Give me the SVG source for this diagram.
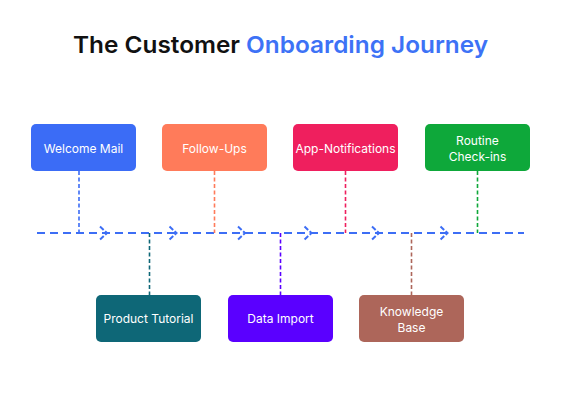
<svg xmlns="http://www.w3.org/2000/svg" width="561" height="400" viewBox="0 0 561 400">
<style>
.lbl{font-family:Inter,"Open Sans","Liberation Sans",sans-serif;font-size:12px;fill:#fff;text-anchor:middle}
.ttl{font-family:Inter,"Open Sans","Liberation Sans",sans-serif;font-size:23.5px;font-weight:600}
.main{stroke:#3D6EF5;stroke-width:2;stroke-dasharray:8 5;fill:none}
.chev{stroke:#3D6EF5;stroke-width:2;stroke-dasharray:5 2;fill:none}
.v{stroke-width:1.6;stroke-dasharray:4 2.5;fill:none}
</style>
<rect width="561" height="400" fill="#fff"/>
<text class="ttl" x="280.5" y="53" text-anchor="middle" textLength="415" lengthAdjust="spacingAndGlyphs"><tspan fill="#111">The Customer </tspan><tspan fill="#3D72F6">Onboarding Journey</tspan></text>
<g id="connectors">
<line class="main" x1="37" y1="233" x2="524" y2="233"/>
<path class="chev" d="M100 226.5 L107 233 L100 239.5"/>
<path class="chev" d="M169.5 226.5 L176.5 233 L169.5 239.5"/>
<path class="chev" d="M238 226.5 L245 233 L238 239.5"/>
<path class="chev" d="M304.5 226.5 L311.5 233 L304.5 239.5"/>
<path class="chev" d="M372 226.5 L379 233 L372 239.5"/>
<path class="chev" d="M440.5 226.5 L447.5 233 L440.5 239.5"/>
<line class="v" x1="79" y1="171" x2="79" y2="233" stroke="#3B6CF6"/>
<line class="v" x1="214.5" y1="171" x2="214.5" y2="233" stroke="#FF7B5A"/>
<line class="v" x1="345.5" y1="171" x2="345.5" y2="233" stroke="#EF1F5E"/>
<line class="v" x1="477.5" y1="171" x2="477.5" y2="233" stroke="#0EA83A"/>
<line class="v" x1="149.5" y1="233" x2="149.5" y2="295" stroke="#0E6777"/>
<line class="v" x1="280.5" y1="233" x2="280.5" y2="295" stroke="#5A00FF"/>
<line class="v" x1="411.5" y1="233" x2="411.5" y2="295" stroke="#AD665A"/>
</g>
<g id="welcome-mail"><rect x="31" y="124" width="105" height="47" rx="5" fill="#3B6CF6"/><text class="lbl" x="83.5" y="152.5">Welcome Mail</text></g>
<g id="follow-ups"><rect x="162" y="124" width="105" height="47" rx="5" fill="#FF7B5A"/><text class="lbl" x="214.5" y="152.5">Follow-Ups</text></g>
<g id="app-notifications"><rect x="293" y="124" width="105" height="47" rx="5" fill="#EF1F5E"/><text class="lbl" x="345.5" y="152.5">App-Notifications</text></g>
<g id="routine-check-ins"><rect x="425" y="124" width="105" height="47" rx="5" fill="#0EA83A"/><text class="lbl" x="477.5" y="144.5">Routine</text><text class="lbl" x="477.5" y="160.5">Check-ins</text></g>
<g id="product-tutorial"><rect x="96" y="295" width="105" height="47" rx="5" fill="#0E6777"/><text class="lbl" x="148.5" y="323">Product Tutorial</text></g>
<g id="data-import"><rect x="228" y="295" width="105" height="47" rx="5" fill="#5A00FF"/><text class="lbl" x="280.5" y="323">Data Import</text></g>
<g id="knowledge-base"><rect x="359" y="295" width="105" height="47" rx="5" fill="#AD665A"/><text class="lbl" x="411.5" y="315.5">Knowledge</text><text class="lbl" x="411.5" y="331.5">Base</text></g>
</svg>
